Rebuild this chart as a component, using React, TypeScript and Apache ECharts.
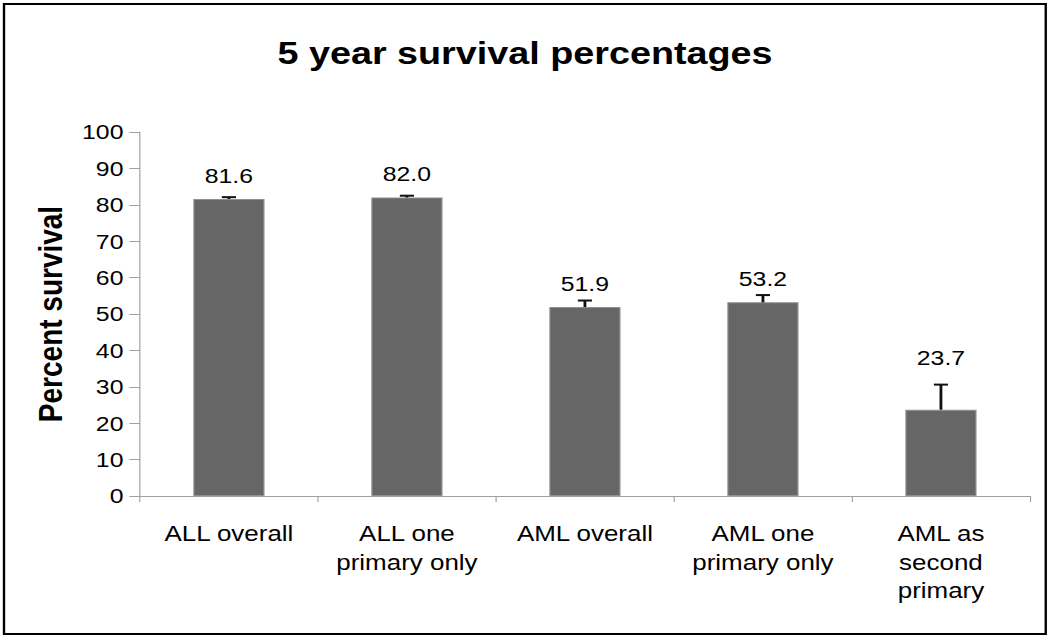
import React, { useEffect, useRef } from "react";
import * as echarts from "echarts";

const categories = ["ALL overall", "ALL one\nprimary only", "AML overall", "AML one\nprimary only", "AML as\nsecond\nprimary"];
const survival = [81.6, 82.0, 51.9, 53.2, 23.7];
const errorUpper = [82.1, 82.5, 53.7, 55.2, 30.6];
const yTicks = [0, 10, 20, 30, 40, 50, 60, 70, 80, 90, 100];

const INNER_W = 890;
const SCALE_X = 1050 / INNER_W;
const PX_PER_UNIT = (639 - 132 - 143) / 100;

export default function App() {
  const ref = useRef<HTMLDivElement>(null);
  useEffect(() => {
    document.body.style.margin = "0";
    const chart = echarts.init(ref.current!, null, { renderer: "svg" });
    const font = "Liberation Sans, Arial, sans-serif";
    chart.setOption({
      animation: false,
      backgroundColor: "#ffffff",
      title: {
        text: "5 year survival percentages",
        left: "center",
        top: 32,
        textStyle: { fontFamily: font, fontSize: 32, fontWeight: "bold", color: "#000" },
      },
      graphic: [
        {
          type: "rect",
          shape: { x: 3.4, y: 4, width: 883, height: 630 },
          style: { fill: "none", stroke: "#000", lineWidth: 2 },
          silent: true,
        },
      ],
      grid: { left: 118.6, right: 17, top: 132, bottom: 143, containLabel: false },
      xAxis: {
        type: "category",
        data: categories,
        axisLine: { lineStyle: { color: "#a0a0a0", width: 1 } },
        axisTick: { show: true, alignWithLabel: false, length: 6, lineStyle: { color: "#a0a0a0" } },
        axisLabel: { fontFamily: font, fontSize: 22, color: "#000", lineHeight: 28.5, margin: 23, interval: 0 },
      },
      yAxis: {
        type: "value",
        min: yTicks[0],
        max: yTicks[yTicks.length - 1],
        interval: 10,
        name: "Percent survival",
        nameLocation: "middle",
        nameGap: 62,
        nameRotate: 90,
        nameTextStyle: { fontFamily: font, fontSize: 28, fontWeight: "bold", color: "#000" },
        axisLine: { show: true, lineStyle: { color: "#a0a0a0", width: 1 } },
        axisTick: { show: true, length: 9, lineStyle: { color: "#a0a0a0" } },
        axisLabel: { fontFamily: font, fontSize: 21, color: "#000", margin: 14 },
        splitLine: { show: false },
      },
      series: [
        {
          type: "bar",
          data: survival.map((v, i) => {
            const errPx = (errorUpper[i] - v) * PX_PER_UNIT;
            return { value: v, label: { distance: errPx > 15 ? errPx + 16 : 13 } };
          }),
          barWidth: "40%",
          itemStyle: { color: "#666666", borderColor: "#909090", borderWidth: 1 },
          label: {
            show: true,
            position: "top",
            formatter: (p: any) => survival[p.dataIndex].toFixed(1),
            fontFamily: font,
            fontSize: 21,
            color: "#000",
          },
          z: 2,
        },
        {
          type: "custom",
          data: survival.map((v, i) => [i, v, errorUpper[i]]),
          z: 3,
          renderItem: (params: any, api: any) => {
            const x = api.value(0);
            const lo = api.coord([x, api.value(1)]);
            const hi = api.coord([x, api.value(2)]);
            const half = 6;
            return {
              type: "group",
              children: [
                { type: "line", shape: { x1: lo[0], y1: lo[1], x2: hi[0], y2: hi[1] }, style: { stroke: "#111", lineWidth: 2.4 } },
                { type: "line", shape: { x1: hi[0] - half, y1: hi[1], x2: hi[0] + half, y2: hi[1] }, style: { stroke: "#111", lineWidth: 2 } },
              ],
            };
          },
        },
      ],
    });
    return () => chart.dispose();
  }, []);
  return (
    <div style={{ width: 1050, height: 639, overflow: "hidden", position: "relative" }}>
      <div
        ref={ref}
        style={{ width: INNER_W, height: 639, transform: `scaleX(${SCALE_X})`, transformOrigin: "0 0" }}
      />
    </div>
  );
}
